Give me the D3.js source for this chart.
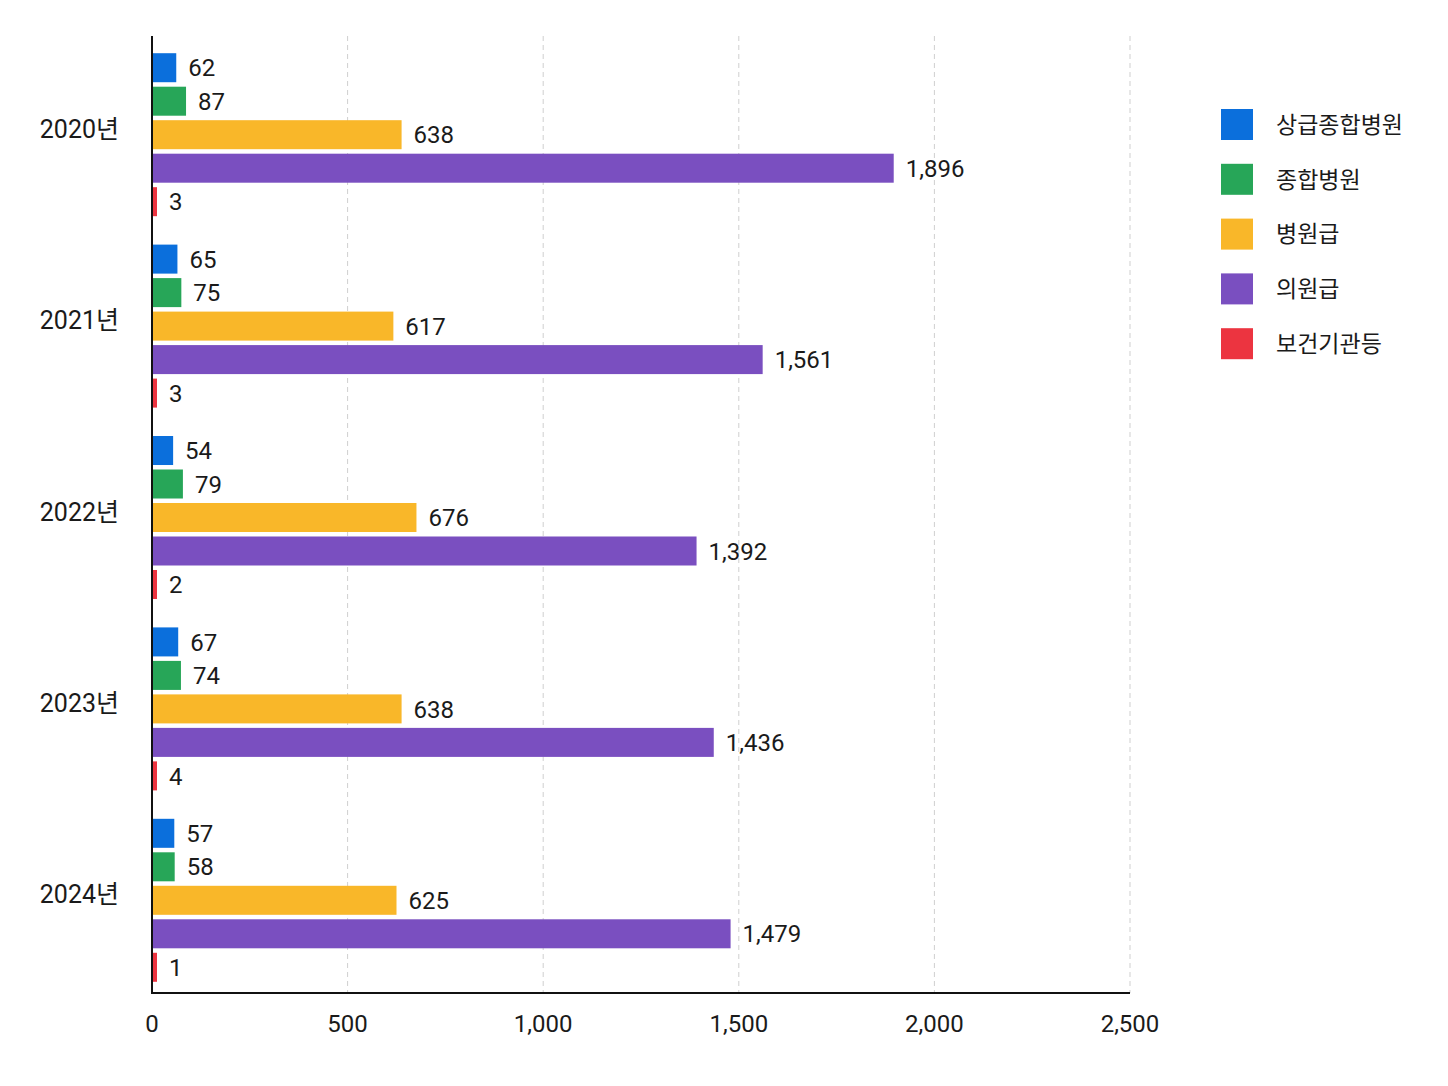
<!DOCTYPE html>
<html>
<head>
<meta charset="utf-8">
<script src="https://cdn.jsdelivr.net/npm/d3@7/dist/d3.min.js"></script>
<style>
  html, body { margin: 0; padding: 0; background: #fff; }
  svg { display: block; }
  text { font-family: "Roboto", "Noto Sans CJK KR", sans-serif; fill: #1a1a1a; }
</style>
</head>
<body>
<svg id="chart" width="1448" height="1086"></svg>
<script>
// ---- data ----
const years = ["2020년", "2021년", "2022년", "2023년", "2024년"];
const seriesNames = ["상급종합병원", "종합병원", "병원급", "의원급", "보건기관등"];
const seriesColors = ["#0b6fdc", "#27a658", "#f9b729", "#7a4fc0", "#ec3440"];
const v상급종합병원 = [62, 65, 54, 67, 57];
const v종합병원 = [87, 75, 79, 74, 58];
const v병원급 = [638, 617, 676, 638, 625];
const v의원급 = [1896, 1561, 1392, 1436, 1479];
const v보건기관등 = [3, 3, 2, 4, 1];
const xTicks = [0, 500, 1000, 1500, 2000, 2500];

(function () {
const seriesValues = [v상급종합병원, v종합병원, v병원급, v의원급, v보건기관등];
const rows = [];
years.forEach((y, i) => {
  seriesNames.forEach((s, j) => rows.push({ year: y, series: s, value: seriesValues[j][i], color: seriesColors[j] }));
});

// ---- layout ----
const svg = d3.select("#chart");
const pLeft = 152, pRight = 1130, pTop = 36, pBottom = 993;
const minBar = 5;

const x = d3.scaleLinear().domain([0, 2500]).range([pLeft, pRight]);
const y0 = d3.scaleBand().domain(years).range([pTop + 3, pBottom + 3]).paddingInner(0.125).paddingOuter(0.0625);
const y1 = d3.scaleBand().domain(seriesNames).range([0, y0.bandwidth()]).paddingInner(0.134).paddingOuter(0.067);
const barW = d => Math.max(minBar, x(d.value) - x(0));

// grid
svg.append("g").selectAll("line").data(xTicks.filter(d => d > 0)).join("line")
  .attr("x1", d => x(d)).attr("x2", d => x(d))
  .attr("y1", pTop).attr("y2", pBottom)
  .attr("stroke", "#cfcfcf").attr("stroke-width", 1).attr("stroke-dasharray", "5,4");

// bars
svg.append("g").selectAll("rect").data(rows).join("rect")
  .attr("x", x(0))
  .attr("y", d => y0(d.year) + y1(d.series))
  .attr("width", barW)
  .attr("height", y1.bandwidth())
  .attr("fill", d => d.color);

// value labels
const fmt = d3.format(",");
svg.append("g").selectAll("text").data(rows).join("text")
  .attr("x", d => x(0) + barW(d) + 12)
  .attr("y", d => y0(d.year) + y1(d.series) + y1.bandwidth() / 2)
  .attr("dy", "0.36em")
  .attr("font-size", 24)
  .text(d => fmt(d.value));

// axes lines
svg.append("line").attr("x1", pLeft).attr("x2", pLeft).attr("y1", pTop).attr("y2", pBottom)
  .attr("stroke", "#111").attr("stroke-width", 2);
svg.append("line").attr("x1", pLeft - 1).attr("x2", pRight).attr("y1", pBottom).attr("y2", pBottom)
  .attr("stroke", "#111").attr("stroke-width", 2);

// x tick labels
svg.append("g").selectAll("text").data(xTicks).join("text")
  .attr("x", d => x(d)).attr("y", 1023)
  .attr("dy", "0.36em")
  .attr("text-anchor", "middle")
  .attr("font-size", 24)
  .text(d => fmt(d));

// year labels
svg.append("g").selectAll("text").data(years).join("text")
  .attr("x", 119)
  .attr("y", d => y0(d) + y0.bandwidth() / 2 - 6)
  .attr("dy", "0.36em")
  .attr("text-anchor", "end")
  .attr("font-size", 25)
  .text(d => d);

// legend
const lg = svg.append("g").selectAll("g").data(seriesNames).join("g")
  .attr("transform", (d, i) => `translate(1221, ${109 + i * 54.8})`);
lg.append("rect").attr("width", 32).attr("height", 31).attr("fill", (d, i) => seriesColors[i]);
lg.append("text").attr("x", 55).attr("y", 15.5).attr("dy", "0.36em")
  .attr("font-size", 23).text(d => d);
})();
</script>
</body>
</html>
